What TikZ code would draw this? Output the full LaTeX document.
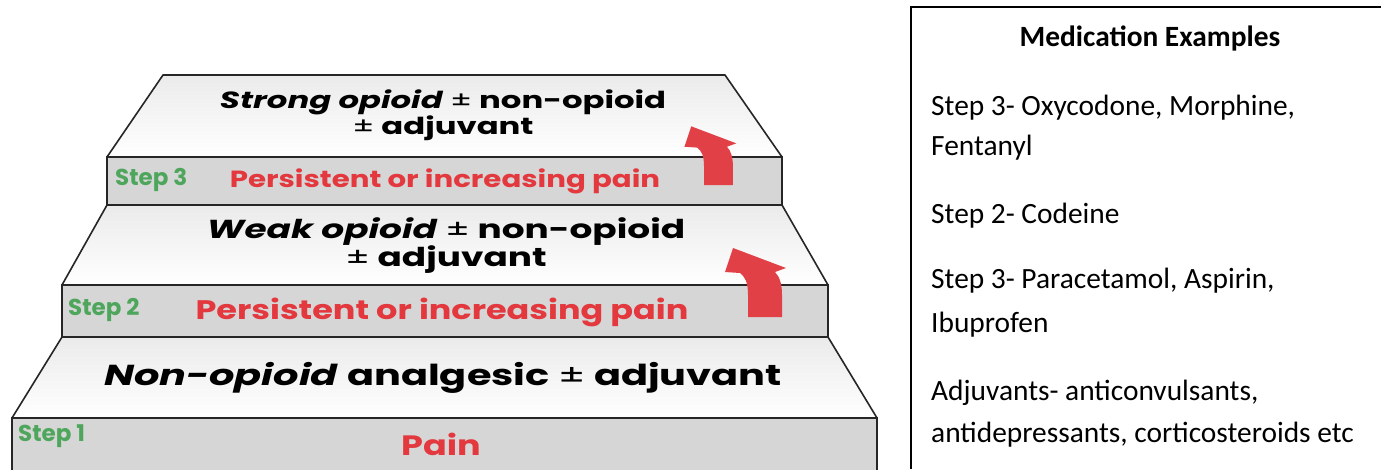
\documentclass[tikz,border=0pt]{standalone}
\usepackage{fontspec}
\setmainfont{Carlito}
\newfontfamily\stairfont{Poppins}[FakeStretch=1.38]
\newfontfamily\painfont{Poppins}[FakeStretch=1.25]
\newfontfamily\stepfont{Poppins}
\usetikzlibrary{positioning}
\definecolor{painred}{RGB}{226,56,62}
\definecolor{stepgreen}{RGB}{78,166,92}
\definecolor{riserfill}{RGB}{214,214,214}
\definecolor{arrowred}{RGB}{224,64,70}
\newcommand{\pmsign}{{\mdseries\upshape ±}}

\begin{document}
\begin{tikzpicture}[x=1pt,y=-1pt,
	tread/.style={draw=black!85,line width=1.6pt,top color=black!8,bottom color=white,line join=round},
	riser/.style={draw=black!85,line width=1.6pt,fill=riserfill},
	steplbl/.style={font=\stepfont\bfseries\fontsize{23}{23}\selectfont,text=stepgreen,anchor=west,inner sep=0pt},
	painlbl/.style={font=\painfont\bfseries\fontsize{26.8}{26.8}\selectfont,text=painred,inner sep=0pt},
	druglbl/.style={font=\stairfont\bfseries\fontsize{23.4}{26}\selectfont,align=center,inner sep=0pt},
	medlbl/.style={font=\fontsize{29.4}{29.4}\selectfont,anchor=base west,inner sep=0pt}]
		\useasboundingbox (0,0) rectangle (1381,469);
		\def\painarrow{(0,0) -- (0,-22) .. controls (0,-35) and (-3,-40) .. (-8,-44) -- (-23,-45) -- (-15,-69) -- (38,-49) -- (27,-45) .. controls (32,-40) and (34,-32) .. (34,-22) -- (34,0) -- cycle}
		%Steps
		\draw[riser] (12,418) rectangle (877,480);
		\draw[tread] (62,337) -- (828,337) -- (877,418) -- (12,418) -- cycle;
		\draw[riser] (62,285) rectangle (828,337);
		\draw[tread] (107,205) -- (782,205) -- (828,285) -- (62,285) -- cycle;
		\draw[riser] (107,157) rectangle (782,205);
		\draw[tread] (163,75) -- (725,75) -- (782,157) -- (107,157) -- cycle;
		%Arrows
		\fill[arrowred,shift={(748,317)}] \painarrow;
		\fill[arrowred,shift={(704,185)},scale=0.85] \painarrow;
		%Step texts
		\node[druglbl] (strong) at (443,115) {\itshape Strong opioid \upshape\pmsign{} non-opioid\\\pmsign{} adjuvant};
		\node[steplbl] (step3) at (115,180) {Step 3};
		\node[painlbl,font=\painfont\bfseries\fontsize{23.4}{23.4}\selectfont] (pain3) at (445,181) {Persistent or increasing pain};
		\node[druglbl,font=\stairfont\bfseries\fontsize{26}{28}\selectfont] (weak) at (446,246) {\itshape Weak opioid \upshape\pmsign{} non-opioid\\\pmsign{} adjuvant};
		\node[steplbl] (step2) at (68,310) {Step 2};
		\node[painlbl] (pain2) at (442,312) {Persistent or increasing pain};
		\node[druglbl,font=\stairfont\bfseries\fontsize{28.9}{28.9}\selectfont] (nonop) at (443,378) {\itshape Non-opioid \upshape analgesic \pmsign{} adjuvant};
		\node[steplbl] (step1) at (18,436) {Step 1};
		\node[painlbl,font=\painfont\bfseries\fontsize{28}{28}\selectfont] (pain1) at (441,444) {Pain};
		%Medication box
		\draw[line width=1.6pt] (911,469) -- (911,7) -- (1381,7);
		\node[medlbl,font=\bfseries\fontsize{29.4}{29.4}\selectfont,anchor=base] (medtitle) at (1150,46) {Medication Examples};
		\node[medlbl] (med3a) at (931,115) {Step 3- Oxycodone, Morphine,};
		\node[medlbl] (med3b) at (931,155) {Fentanyl};
		\node[medlbl] (med2) at (931,223) {Step 2- Codeine};
		\node[medlbl] (med1a) at (931,288) {Step 3- Paracetamol, Aspirin,};
		\node[medlbl] (med1b) at (931,332) {Ibuprofen};
		\node[medlbl] (adja) at (931,400) {Adjuvants- anticonvulsants,};
		\node[medlbl] (adjb) at (931,442) {antidepressants, corticosteroids etc};
\end{tikzpicture}
\end{document}
